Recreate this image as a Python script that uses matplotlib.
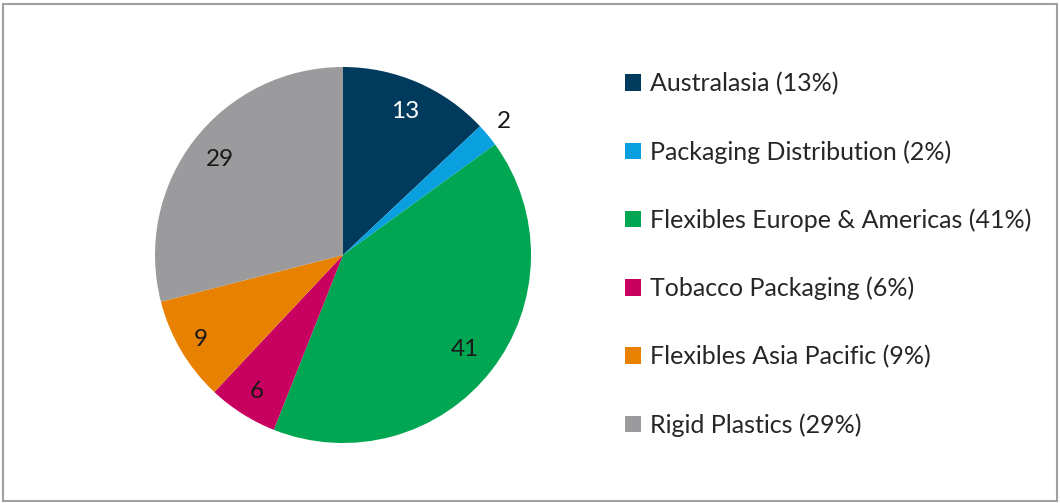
import matplotlib
matplotlib.use("Agg")
import matplotlib.pyplot as plt
from matplotlib.patches import Rectangle, Patch
import numpy as np

# Segment share of sales (%)
segments = ["Australasia", "Packaging Distribution", "Flexibles Europe & Americas",
            "Tobacco Packaging", "Flexibles Asia Pacific", "Rigid Plastics"]
shares = [13, 2, 41, 6, 9, 29]
colors = ["#003A5C", "#0AA0E0", "#00A651", "#C8005F", "#E88100", "#9B9B9D"]
label_colors = ["white", "#1a1a1a", "#1a1a1a", "#1a1a1a", "#1a1a1a", "#1a1a1a"]
label_radius = [0.83, 1.11, 0.82, 0.86, 0.88, 0.83]

plt.rcParams["font.family"] = ["Lato", "DejaVu Sans"]

W, H = 1060, 503
fig = plt.figure(figsize=(W / 100, H / 100), dpi=100)

# outer frame
fig.patches.append(Rectangle((3 / W, 2 / H), 1054 / W, 497 / H, transform=fig.transFigure,
                             fill=False, edgecolor="#A0A0A0", linewidth=1.5))

cx, cy, r = 343, 255, 188
ax = fig.add_axes([(cx - r) / W, (H - cy - r) / H, 2 * r / W, 2 * r / H])
wedges, _ = ax.pie(shares, colors=colors, startangle=90, counterclock=False,
                   radius=1.0, wedgeprops=dict(linewidth=0))
ax.set_xlim(-1, 1)
ax.set_ylim(-1, 1)
ax.set_aspect("equal")
ax.axis("off")

for w, val, col, d in zip(wedges, shares, label_colors, label_radius):
    ang = np.deg2rad((w.theta1 + w.theta2) / 2)
    ax.text(d * np.cos(ang), d * np.sin(ang), str(val), ha="center", va="center",
            fontsize=17.5, color=col)

handles = [Patch(facecolor=c, edgecolor="none") for c in colors]
labels = [f"{s} ({v}%)" for s, v in zip(segments, shares)]
fig.legend(handles, labels, loc="upper left", bbox_to_anchor=(625 / W, 1 - 72 / H),
           frameon=False, fontsize=18, handlelength=0.62, handleheight=0.62,
           handletextpad=0.4, labelspacing=1.79, labelcolor="#262626",
           borderpad=0, borderaxespad=0)

fig.savefig("out.png", dpi=100)
